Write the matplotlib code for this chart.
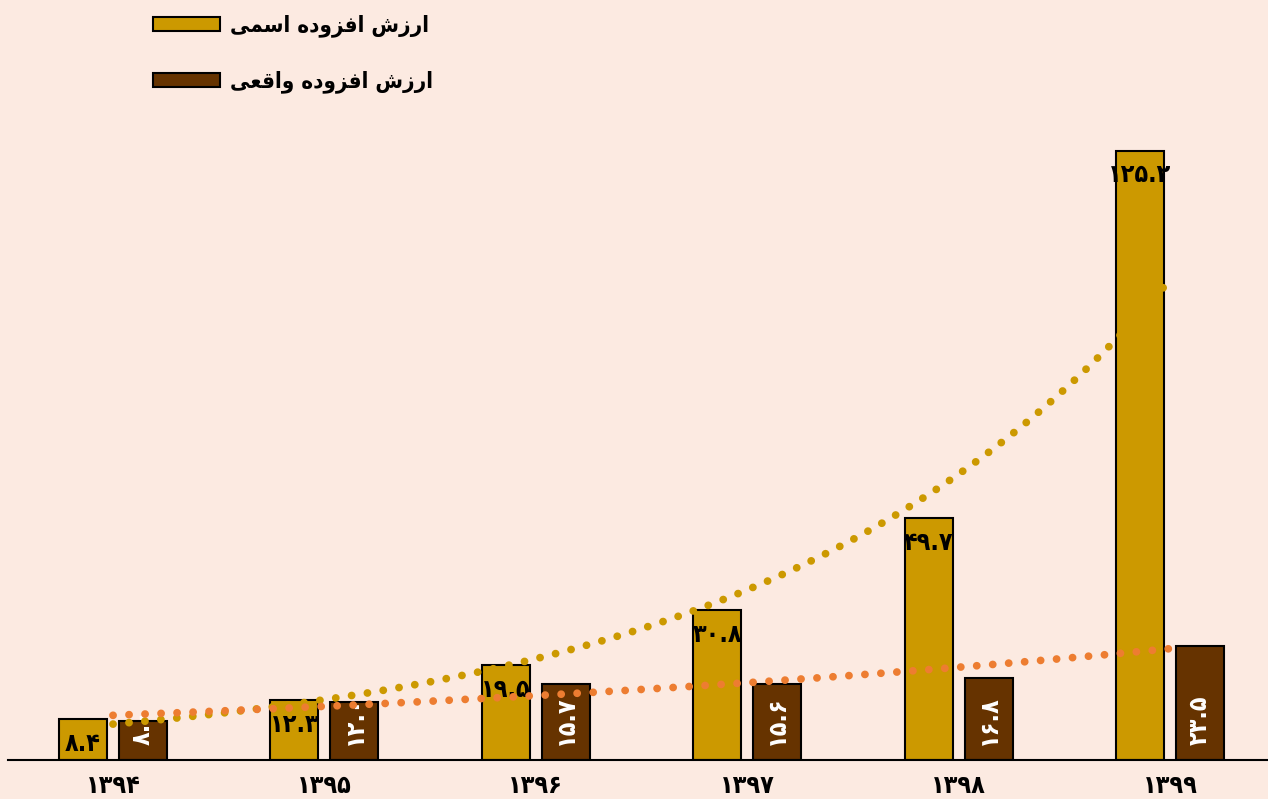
import matplotlib
matplotlib.use('Agg')
import matplotlib.pyplot as plt
import numpy as np

years = ['۱۳۹۴', '۱۳۹۵', '۱۳۹۶', '۱۳۹۷', '۱۳۹۸', '۱۳۹۹']
nominal = [8.4, 12.3, 19.5, 30.8, 49.7, 125.2]
real = [8.0, 12.0, 15.7, 15.6, 16.8, 23.5]
series_names = ['ارزش افزوده اسمی', 'ارزش افزوده واقعی']

GOLD = '#CC9900'
BROWN = '#663300'
ORANGE = '#ED7D31'
BG = '#FCEAE1'

# presentation forms: isolated, final, initial, medial (None = right-joining only)
FORMS = {
    '\u0627': ('\uFE8D', '\uFE8E', None, None),
    '\u0631': ('\uFEAD', '\uFEAE', None, None),
    '\u0632': ('\uFEAF', '\uFEB0', None, None),
    '\u0648': ('\uFEED', '\uFEEE', None, None),
    '\u062F': ('\uFEA9', '\uFEAA', None, None),
    '\u0634': ('\uFEB5', '\uFEB6', '\uFEB7', '\uFEB8'),
    '\u0641': ('\uFED1', '\uFED2', '\uFED3', '\uFED4'),
    '\u0647': ('\uFEE9', '\uFEEA', '\uFEEB', '\uFEEC'),
    '\u0633': ('\uFEB1', '\uFEB2', '\uFEB3', '\uFEB4'),
    '\u0645': ('\uFEE1', '\uFEE2', '\uFEE3', '\uFEE4'),
    '\u06CC': ('\uFBFC', '\uFBFD', '\uFBFE', '\uFBFF'),
    '\u0642': ('\uFED5', '\uFED6', '\uFED7', '\uFED8'),
    '\u0639': ('\uFEC9', '\uFECA', '\uFECB', '\uFECC'),
}


def shape(text):
    # matplotlib has no arabic shaping: pick joined forms, then reverse for LTR drawing
    out = []
    for i, ch in enumerate(text):
        if ch not in FORMS:
            out.append(ch)
            continue
        prev = text[i - 1] if i > 0 else ''
        nxt = text[i + 1] if i + 1 < len(text) else ''
        join_prev = prev in FORMS and FORMS[prev][2] is not None
        join_next = nxt in FORMS and FORMS[ch][2] is not None
        iso, fin, ini, med = FORMS[ch]
        if join_prev and join_next:
            out.append(med)
        elif join_prev:
            out.append(fin)
        elif join_next:
            out.append(ini)
        else:
            out.append(iso)
    return ''.join(reversed(out))


def fa_num(v):
    return str(v).translate(str.maketrans('0123456789', '۰۱۲۳۴۵۶۷۸۹'))


plt.rcParams['font.family'] = ['DejaVu Sans']
plt.rcParams['font.weight'] = 'bold'
plt.rcParams['font.stretch'] = 'condensed'

fig = plt.figure(figsize=(12.68, 7.99), dpi=100, facecolor=BG)
ax = fig.add_axes([8 / 1268, 39 / 799, 1 - 8 / 1268, 632.5 / 799])
ax.set_facecolor(BG)

x = np.arange(1, len(years) + 1)
w = 0.227
off = 0.142
b1 = ax.bar(x - off, nominal, w, color=GOLD, edgecolor='black', linewidth=1.5,
            label=shape(series_names[0]), zorder=2)
b2 = ax.bar(x + off, real, w, color=BROWN, edgecolor='black', linewidth=1.5,
            label=shape(series_names[1]), zorder=2)

for xi, v in zip(x, nominal):
    ax.annotate(fa_num(v), (xi - off, v), xytext=(0, -9), textcoords='offset points',
                ha='center', va='top', fontsize=18, fontweight='bold', color='black', zorder=3)
for xi, v in zip(x, real):
    ax.annotate(fa_num(v), (xi + off, 0), xytext=(0, 11), textcoords='offset points',
                ha='center', va='bottom', rotation=90, fontsize=18, fontweight='bold',
                color='white', zorder=3)

# exponential trendlines
xs = np.linspace(1, 6, 200)
for vals, col in [(nominal, GOLD), (real, ORANGE)]:
    k, c = np.polyfit(x, np.log(vals), 1)
    ax.plot(xs, np.exp(c + k * xs), color=col, linewidth=5.6,
            linestyle=(0, (0.01, 2.05)), dash_capstyle='round', zorder=4)

ax.set_xlim(1 - 105 / 211.4, 6 + 98 / 211.4)
ax.set_ylim(0, 130)
ax.set_xticks(x)
ax.set_xticklabels(years, fontsize=18, fontweight='bold')
ax.tick_params(axis='x', length=0, pad=10)
ax.set_yticks([])
for s in ['top', 'right', 'left']:
    ax.spines[s].set_visible(False)
ax.spines['bottom'].set_linewidth(1.5)

leg = ax.legend(handles=[b1, b2], loc='upper left', bbox_to_anchor=(133 / 1268, 1.007),
                bbox_transform=fig.transFigure, frameon=False, fontsize=16,
                handlelength=3.0, handleheight=0.6, labelspacing=1.5, handletextpad=0.45)
for t in leg.get_texts():
    t.set_fontweight('bold')

fig.savefig('out.png', dpi=100, facecolor=BG)
